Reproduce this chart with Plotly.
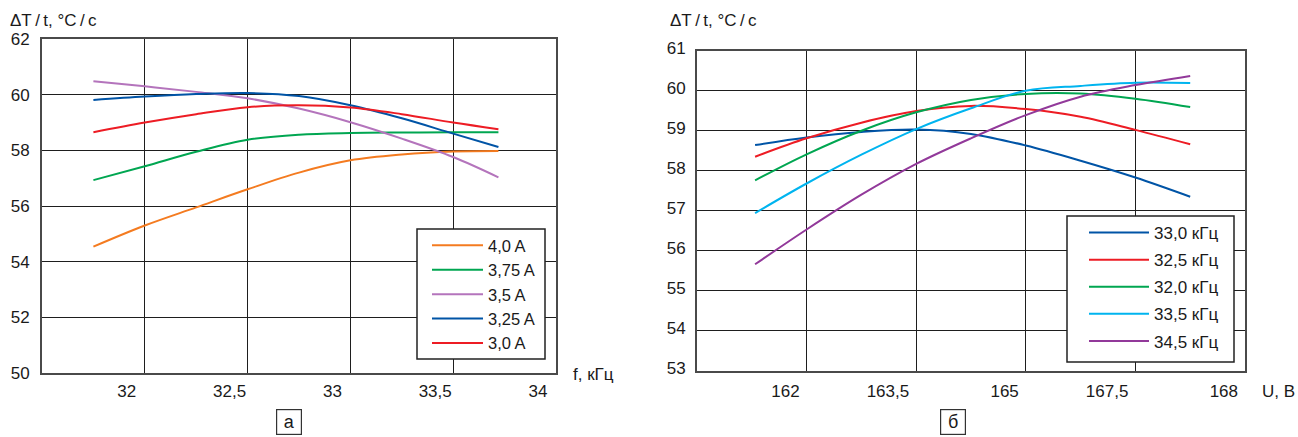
import plotly.graph_objects as go

W, H = 1298, 437

# ---------------- data: chart "a" ----------------
f_khz = [31.75, 32.0, 32.25, 32.5, 32.75, 33.0, 33.25, 33.5, 33.72]
a_names = ["4,0 A", "3,75 A", "3,5 A", "3,25 A", "3,0 A"]
a_orange = [54.54, 55.30, 55.95, 56.60, 57.20, 57.64, 57.85, 57.96, 57.98]
a_green = [56.93, 57.43, 57.95, 58.38, 58.56, 58.62, 58.64, 58.65, 58.65]
a_purple = [60.48, 60.30, 60.10, 59.87, 59.50, 59.01, 58.42, 57.76, 57.03]
a_blue = [59.81, 59.93, 60.02, 60.06, 59.95, 59.62, 59.15, 58.60, 58.12]
a_red = [58.65, 59.00, 59.30, 59.55, 59.62, 59.54, 59.30, 59.00, 58.76]
a_colors = ["#F47B20", "#00A651", "#B474BC", "#0054A6", "#ED1C24"]
a_xticks = [32, 32.5, 33, 33.5, 34]
a_xticktext = ["32", "32,5", "33", "33,5", "34"]
a_yticks = [50, 52, 54, 56, 58, 60, 62]

# ---------------- data: chart "б" (x in grid-cell units) ----------------
u_pos = [0.53, 1.0, 1.5, 2.0, 2.5, 3.0, 3.5, 4.0, 4.5]
b_names = ["33,0 кГц", "32,5 кГц", "32,0 кГц", "33,5 кГц", "34,5 кГц"]
b_blue = [58.64, 58.83, 58.97, 59.03, 58.92, 58.63, 58.25, 57.83, 57.35]
b_red = [58.35, 58.81, 59.20, 59.49, 59.62, 59.54, 59.35, 59.02, 58.66]
b_green = [57.76, 58.41, 59.00, 59.46, 59.77, 59.92, 59.93, 59.80, 59.59]
b_cyan = [56.94, 57.68, 58.40, 59.04, 59.56, 60.00, 60.12, 60.20, 60.19]
b_purple = [55.66, 56.53, 57.40, 58.17, 58.81, 59.39, 59.85, 60.14, 60.37]
b_colors = ["#0054A6", "#ED1C24", "#00A651", "#00B4EF", "#92399A"]
b_xticks = [1, 2, 3, 4, 5]
b_xticktext = ["162", "163,5", "165", "167,5", "168"]
b_yticks = [53, 54, 55, 56, 57, 58, 59, 60, 61]

FONT = "Liberation Sans"


def px_x(p):
    return p / W


def px_y(p):
    return 1 - p / H


fig = go.Figure()

a_series = [a_orange, a_green, a_purple, a_blue, a_red]
for i, (name, ys) in enumerate(zip(a_names, a_series)):
    fig.add_trace(go.Scatter(
        x=f_khz, y=ys, name=name, mode="lines",
        line=dict(color=a_colors[i], width=2, shape="spline"),
        xaxis="x", yaxis="y", legend="legend", legendgroup="a%d" % i,
    ))

b_series = [b_blue, b_red, b_green, b_cyan, b_purple]
for i, (name, ys) in enumerate(zip(b_names, b_series)):
    fig.add_trace(go.Scatter(
        x=u_pos, y=ys, name=name, mode="lines",
        line=dict(color=b_colors[i], width=2, shape="spline"),
        xaxis="x2", yaxis="y2", legend="legend2", legendgroup="b%d" % i,
    ))

grid = dict(showgrid=True, gridcolor="#1e1e1e", gridwidth=1.3,
            showline=True, linecolor="#4a4a4a", linewidth=2, mirror=True,
            zeroline=False, ticks="", automargin=False,
            tickfont=dict(family=FONT, size=17, color="#1a1a1a"))

fig.update_layout(
    template="none",
    width=W, height=H,
    margin=dict(l=0, r=0, t=0, b=0, pad=0, autoexpand=False),
    paper_bgcolor="white", plot_bgcolor="white",
    font=dict(family=FONT, color="#1a1a1a"),
    xaxis=dict(domain=[px_x(42), px_x(556)], range=[31.5, 34], tickvals=a_xticks,
               ticktext=a_xticktext, anchor="y", ticklabelshift=-18,
               ticklabelstandoff=2, **grid),
    yaxis=dict(domain=[px_y(373), px_y(39)], range=[50, 62], tickvals=a_yticks,
               anchor="x", ticklabelstandoff=7, **grid),
    xaxis2=dict(domain=[px_x(697), px_x(1245)], range=[0, 5], tickvals=b_xticks,
                ticktext=b_xticktext, anchor="y2", ticklabelposition="outside left",
                ticklabelshift=-6, ticklabelstandoff=4, **grid),
    yaxis2=dict(domain=[px_y(370.7), px_y(50.7)], range=[53, 61], tickvals=b_yticks,
                anchor="x2", ticklabelstandoff=6, ticklabelshift=-3, **grid),
    legend=dict(x=px_x(427), y=px_y(228), xanchor="left", yanchor="top",
                bgcolor="rgba(0,0,0,0)", borderwidth=0,
                font=dict(family=FONT, size=16.5, color="#1a1a1a"),
                itemwidth=51, tracegroupgap=0),
    legend2=dict(x=px_x(1084), y=px_y(215), xanchor="left", yanchor="top",
                 bgcolor="rgba(0,0,0,0)", borderwidth=0,
                 font=dict(family=FONT, size=17, color="#1a1a1a"),
                 itemwidth=60, tracegroupgap=2),
    showlegend=True,
)

# legend frames
fig.add_shape(type="rect", xref="paper", yref="paper", layer="above",
              x0=px_x(417), x1=px_x(545), y0=px_y(359), y1=px_y(229),
              line=dict(color="#222", width=1.5), fillcolor="white")
fig.add_shape(type="rect", xref="paper", yref="paper", layer="above",
              x0=px_x(1067), x1=px_x(1234), y0=px_y(362), y1=px_y(216),
              line=dict(color="#222", width=1.5), fillcolor="white")

ann_font = dict(family=FONT, size=17, color="#1a1a1a")
title_txt = "ΔT\u2009/\u2009t, °C\u2009/\u2009c"
fig.add_annotation(x=px_x(8), y=px_y(21), xref="paper", yref="paper", xanchor="left",
                   yanchor="middle", text=title_txt, showarrow=False, font=ann_font)
fig.add_annotation(x=px_x(668), y=px_y(21), xref="paper", yref="paper", xanchor="left",
                   yanchor="middle", text=title_txt, showarrow=False, font=ann_font)
fig.add_annotation(x=px_x(571), y=px_y(374), xref="paper", yref="paper", xanchor="left",
                   yanchor="middle", text="f, кГц", showarrow=False, font=ann_font)
fig.add_annotation(x=px_x(1260), y=px_y(391), xref="paper", yref="paper", xanchor="left",
                   yanchor="middle", text="U, B", showarrow=False, font=ann_font)
box_font = dict(family=FONT, size=18, color="#1a1a1a")
fig.add_annotation(x=px_x(289), y=px_y(422), xref="paper", yref="paper", xanchor="center",
                   yanchor="middle", text="a", showarrow=False, font=box_font,
                   bordercolor="#333", borderwidth=1.2, width=22, height=22, bgcolor="white")
fig.add_annotation(x=px_x(953), y=px_y(422), xref="paper", yref="paper", xanchor="center",
                   yanchor="middle", text="б", showarrow=False, font=box_font,
                   bordercolor="#333", borderwidth=1.2, width=22, height=22, bgcolor="white")

fig.write_html("out.html", config={"displayModeBar": False},
               post_script="document.body.style.margin='0px';")
